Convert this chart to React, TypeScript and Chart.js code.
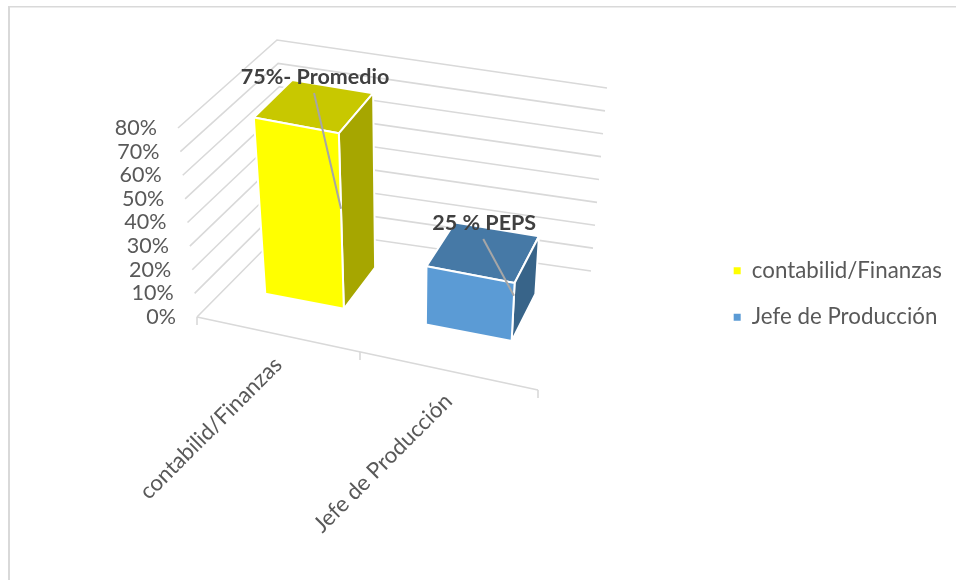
import React, { useEffect, useRef } from "react";
import { Chart, registerables } from "chart.js";

Chart.register(...registerables);

const categories = ["contabilid/Finanzas", "Jefe de Producción"];
const shares = [0.75, 0.25];
const barLabels = ["75%- Promedio", "25 % PEPS"];
const leaderDrop = [0.57, 0.78];
const frontColors = ["#ffff00", "#5b9bd5"];
const topColors = ["#c8c800", "#4679a6"];
const sideColors = ["#a6a600", "#386489"];

type Pt = [number, number];

// Corners of the 3D plot box on the canvas: floor and ceiling, front and back.
const floorFL: Pt = [197, 317];
const floorFR: Pt = [538, 390];
const floorBL: Pt = [286, 227];
const floorBR: Pt = [591, 271];
const ceilFL: Pt = [178, 128];
const ceilFR: Pt = [550, 204];
const ceilBL: Pt = [277, 40];
const ceilBR: Pt = [607, 88];
const perspective = 1.092;
const depthFront = 0.34;
const depthBack = 0.75;
const FONT = "Lato, 'Open Sans', sans-serif";
const TEXT_SIZE = 21.5;
const NAME_SIZE = 22.3;
const TEXT_COLOR = "#595959";

function bilinear(a: Pt, b: Pt, c: Pt, d: Pt, u: number, w: number): Pt {
  return [
    a[0] * (1 - u) * (1 - w) + b[0] * u * (1 - w) + c[0] * (1 - u) * w + d[0] * u * w,
    a[1] * (1 - u) * (1 - w) + b[1] * u * (1 - w) + c[1] * (1 - u) * w + d[1] * u * w,
  ];
}

// u: across the categories, v: up the value axis, w: into the depth of the box.
function project(u: number, v: number, w: number): Pt {
  const uu = u / (u + (1 - u) * perspective);
  const lo = bilinear(floorFL, floorFR, floorBL, floorBR, uu, w);
  const hi = bilinear(ceilFL, ceilFR, ceilBL, ceilBR, uu, w);
  return [lo[0] + (hi[0] - lo[0]) * v, lo[1] + (hi[1] - lo[1]) * v];
}

function polyline(ctx: CanvasRenderingContext2D, pts: Pt[], close = false) {
  ctx.beginPath();
  pts.forEach((p, i) => (i ? ctx.lineTo(p[0], p[1]) : ctx.moveTo(p[0], p[1])));
  if (close) ctx.closePath();
}

const box3d = {
  id: "box3d",
  beforeDatasetsDraw(chart: any) {
    const { ctx, chartArea: area, scales } = chart;
    const yScale = scales.y;
    const xScale = scales.x;
    const vOf = (val: number) => (yScale.bottom - yScale.getPixelForValue(val)) / (yScale.bottom - yScale.top);
    ctx.save();

    // Outer frame
    ctx.strokeStyle = "#d9d9d9";
    ctx.lineWidth = 2;
    polyline(ctx, [[9, 580], [9, 7]]);
    ctx.stroke();
    ctx.lineWidth = 1.5;
    polyline(ctx, [[8, 6.7], [956, 6.7]]);
    ctx.stroke();

    // Walls
    ctx.lineWidth = 1.6;
    ctx.strokeStyle = "#d9d9d9";
    yScale.ticks.forEach((t: any) => {
      const v = vOf(t.value);
      polyline(ctx, [project(0, v, 0), project(0, v, 1), project(1, v, 1)]);
      ctx.stroke();
    });

    // Category axis with its tick marks
    polyline(ctx, [project(0, 0, 0), project(1, 0, 0)]);
    ctx.stroke();
    for (let i = 0; i <= categories.length; i++) {
      const p = project(i / categories.length, 0, 0);
      polyline(ctx, [p, [p[0], p[1] + 8]]);
      ctx.stroke();
    }

    // Value labels follow the slanted front edge
    ctx.font = `${TEXT_SIZE}px ${FONT}`;
    ctx.fillStyle = TEXT_COLOR;
    ctx.textAlign = "right";
    ctx.textBaseline = "middle";
    yScale.ticks.forEach((t: any) => {
      const p = project(0, vOf(t.value), 0);
      ctx.fillText(t.label, p[0] - 21, p[1]);
    });

    // Category labels, rotated and anchored at their right end
    ctx.font = `${NAME_SIZE}px ${FONT}`;
    categories.forEach((_, i) => {
      const u = (xScale.getPixelForValue(i) - area.left) / area.width;
      const p = project(u, 0, 0);
      ctx.save();
      ctx.translate(p[0] + 1.5, p[1] + 27);
      ctx.rotate(-Math.PI / 4);
      ctx.textAlign = "right";
      ctx.textBaseline = "middle";
      ctx.fillText(xScale.getLabelForValue(i), 0, 0);
      ctx.restore();
    });

    // Bars as boxes
    const bars = chart.getDatasetMeta(0).data;
    const anchors: { top: Pt; end: Pt }[] = [];
    bars.forEach((bar: any, i: number) => {
      const u0 = (bar.x - bar.width / 2 - area.left) / area.width;
      const u1 = (bar.x + bar.width / 2 - area.left) / area.width;
      const v = (bar.base - bar.y) / (yScale.bottom - yScale.top);
      const a = project(u0, v, depthFront);
      const b = project(u1, v, depthFront);
      const c = project(u1, v, depthBack);
      const d = project(u0, v, depthBack);
      const a0 = project(u0, 0, depthFront);
      const b0 = project(u1, 0, depthFront);
      const c0 = project(u1, 0, depthBack);
      ctx.lineWidth = 2;
      ctx.strokeStyle = "#ffffff";
      ctx.lineJoin = "round";
      const faces: [Pt[], string][] = [
        [[a, b, c, d], topColors[i]],
        [[b, c, c0, b0], sideColors[i]],
        [[a, b, b0, a0], frontColors[i]],
      ];
      faces.forEach(([pts, color]) => {
        polyline(ctx, pts, true);
        ctx.fillStyle = color;
        ctx.fill();
        ctx.stroke();
      });
      anchors.push({
        top: project((u0 + u1) / 2, v, (depthFront + depthBack) / 2),
        end: project(u1, v * leaderDrop[i], depthFront),
      });
    });

    // Leader lines and bar captions
    anchors.forEach(({ top, end }, i) => {
      ctx.strokeStyle = "#a6a6a6";
      ctx.lineWidth = 2;
      polyline(ctx, [[top[0], top[1] - 13], end]);
      ctx.stroke();
      ctx.font = `bold ${TEXT_SIZE}px ${FONT}`;
      ctx.fillStyle = "#404040";
      ctx.textAlign = "center";
      ctx.textBaseline = "middle";
      ctx.fillText(barLabels[i], top[0] + 1, top[1] - 29);
    });

    ctx.restore();
    return false;
  },
};

export default function App() {
  const ref = useRef<HTMLCanvasElement>(null);
  useEffect(() => {
    const chart = new Chart(ref.current as HTMLCanvasElement, {
      type: "bar",
      data: {
        labels: categories,
        datasets: [
          {
            data: shares,
            backgroundColor: frontColors,
            barPercentage: 0.5,
            categoryPercentage: 1,
          },
        ],
      },
      options: {
        animation: false,
        responsive: false,
        layout: { padding: { left: 170, top: 11, bottom: 3, right: 4 } },
        scales: {
          x: { type: "category", display: false },
          y: {
            display: false,
            min: 0,
            max: 0.8,
            ticks: { stepSize: 0.1, callback: (v: any) => `${Math.round(Number(v) * 100)}%` },
          },
        },
        plugins: {
          tooltip: { enabled: false },
          legend: {
            display: true,
            position: "right",
            labels: {
              color: TEXT_COLOR,
              font: { family: FONT, size: NAME_SIZE },
              boxWidth: 7,
              boxHeight: 7,
              padding: 24,
              generateLabels: () =>
                categories.map((text, i) => ({
                  text,
                  fillStyle: frontColors[i],
                  strokeStyle: frontColors[i],
                  fontColor: TEXT_COLOR,
                  lineWidth: 0,
                  index: i,
                  hidden: false,
                })),
            },
          },
        },
      },
      plugins: [box3d],
    } as any);
    return () => chart.destroy();
  }, []);
  return (
    <div style={{ position: "fixed", left: 0, top: 0, width: 956, height: 580, background: "#fff" }}>
      <canvas ref={ref} width={956} height={580} style={{ display: "block" }} />
    </div>
  );
}
